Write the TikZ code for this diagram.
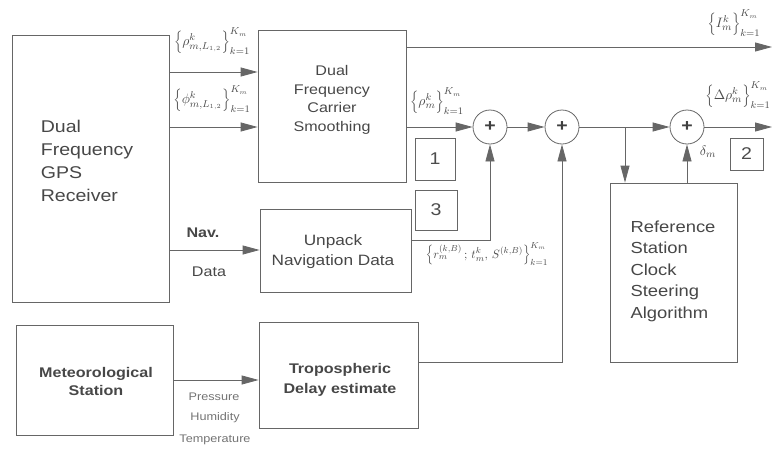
\documentclass[tikz,border=0pt]{standalone}
\usepackage{fontspec}
\setmainfont{Liberation Sans}[FakeStretch=1.15]
\usetikzlibrary{arrows.meta}
\newcommand{\mlab}[1]{\scalebox{1.25}{$#1$}}
\begin{document}
\begin{tikzpicture}[x=1pt,y=-1pt,
  blk/.style={draw=black!60, line width=0.8pt, inner sep=0pt},
  txt/.style={text=black!72, inner sep=0pt},
  arr/.style={draw=black!60, line width=0.8pt, -{Triangle[length=17pt,width=9pt]}},
  sum/.style={circle, draw=black!60, line width=0.8pt, minimum size=34pt, inner sep=0pt, font=\fontsize{17}{17}\selectfont\bfseries, text=black!75},
  numbox/.style={draw=black!60, line width=0.8pt, inner sep=0pt, font=\fontsize{17}{17}\selectfont, text=black!70},
  lab/.style={text=black!70, inner sep=0pt, font=\fontsize{11}{11}\selectfont},
  small/.style={text=black!55, inner sep=0pt, font=\fontsize{11}{11}\selectfont},
]
\useasboundingbox (0,0) rectangle (774,450);

% blocks
\node[blk, minimum width=157pt, minimum height=267pt] (gps) at (90.5,168.5) {};
\node[txt, align=left, font=\fontsize{17}{23}\selectfont] (gpst) at (87,161) {Dual\\Frequency\\GPS\\Receiver};
\node[blk, minimum width=148pt, minimum height=152pt] (smooth) at (332,106) {};
\node[txt, align=center, font=\fontsize{14}{18.5}\selectfont] (smootht) at (332,100) {Dual\\Frequency\\Carrier\\Smoothing};
\node[blk, minimum width=151pt, minimum height=83pt] (unpack) at (335.5,250.5) {};
\node[txt, align=center, font=\fontsize{15}{20}\selectfont] (unpackt) at (333,252) {Unpack\\Navigation Data};
\node[blk, minimum width=157pt, minimum height=110pt] (met) at (94.5,380) {};
\node[txt, align=center, font=\fontsize{14}{18}\selectfont\bfseries] (mett) at (96,381) {Meteorological\\Station};
\node[blk, minimum width=159pt, minimum height=106pt] (trop) at (338.5,375) {};
\node[txt, align=center, font=\fontsize{14}{20}\selectfont\bfseries] (tropt) at (340,380) {Tropospheric\\Delay estimate};
\node[blk, minimum width=127pt, minimum height=179pt] (ref) at (673.5,272.5) {};
\node[txt, align=left, font=\fontsize{16}{21.5}\selectfont] (reft) at (673,271) {Reference\\Station\\Clock\\Steering\\Algorithm};

% numbered boxes
\node[numbox, minimum width=40pt, minimum height=42pt] (b1) at (435,159) {1};
\node[numbox, minimum width=42pt, minimum height=40pt] (b3) at (436,210) {3};
\node[numbox, minimum width=33pt, minimum height=32pt] (b2) at (746.5,154) {2};

% summing junctions
\node[sum] (s1) at (490,127) {+};
\node[sum] (s2) at (562,127) {+};
\node[sum] (s3) at (687,127) {+};

\coordinate (out1) at (772,47);
\coordinate (out2) at (772,127);
\coordinate (br) at (625,127);

% connectors
\draw[arr] (gps.east |- 0,72) -- (smooth.west |- 0,72);
\draw[arr] (gps.east |- 0,127) -- (smooth.west |- 0,127);
\draw[arr] (gps.east |- 0,250) -- (unpack.west |- 0,250);
\draw[arr] (smooth.east |- out1) -- (out1);
\draw[arr] (smooth.east |- s1.west) -- (s1.west);
\draw[arr] (s1) -- (s2);
\draw[arr] (s2.east) -- (s3.west);
\draw[arr] (br) -- (br |- ref.north);
\draw[arr] (ref.north -| s3) -- (s3.south);
\draw[arr] (s3.east) -- (out2);
\draw[arr] (unpack.east |- 0,240) -| (s1.south);
\draw[arr] (trop.east |- 0,362) -| (s2.south);
\draw[arr] (met.east |- 0,380) -- (trop.west |- 0,380);

% labels
\node[lab] (lrho) at (212,41) {\mlab{\left\{\rho^{k}_{m,L_{1,2}}\right\}_{k=1}^{K_m}}};
\node[lab] (lphi) at (212,99) {\mlab{\left\{\phi^{k}_{m,L_{1,2}}\right\}_{k=1}^{K_m}}};
\node[lab] (lI) at (734,23) {\mlab{\left\{I^{k}_{m}\right\}_{k=1}^{K_m}}};
\node[lab] (lrho2) at (437,101) {\mlab{\left\{\rho^{k}_{m}\right\}_{k=1}^{K_m}}};
\node[lab] (ldrho) at (738,95) {\mlab{\left\{\Delta\rho^{k}_{m}\right\}_{k=1}^{K_m}}};
\node[lab] (ldelta) at (708,152) {\mlab{\delta_m}};
\node[lab] (lr) at (487,254) {\scalebox{1.1}{$\left\{r^{(k,B)}_{m}\,;\,t^{k}_{m},\,S^{(k,B)}\right\}_{k=1}^{K_m}$}};

\node[txt, font=\fontsize{14}{14}\selectfont\bfseries] (nav) at (203,233) {Nav.};
\node[txt, font=\fontsize{14}{14}\selectfont] (data) at (209,272) {Data};
\node[small] (pres) at (214,397) {Pressure};
\node[small] (hum) at (215,418) {Humidity};
\node[small] (temp) at (215,440) {Temperature};
\end{tikzpicture}
\end{document}
